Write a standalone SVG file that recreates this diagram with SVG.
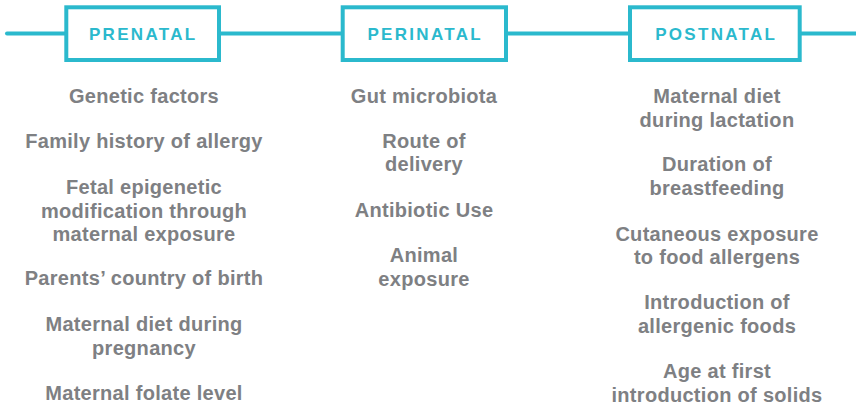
<svg xmlns="http://www.w3.org/2000/svg" width="856" height="407" viewBox="0 0 856 407">
<style>
.ln{stroke:#2bb9cd;stroke-width:4;fill:none;stroke-linecap:round}
.box{fill:#fff;stroke:#2bb9cd;stroke-width:4}
.hd{font-family:"Liberation Sans",Arial,sans-serif;font-weight:bold;font-size:17px;letter-spacing:2.3px;fill:#2bb9cd;text-anchor:middle}
.tx{font-family:"Liberation Sans",Arial,sans-serif;font-weight:bold;font-size:20px;letter-spacing:0.3px;fill:#7e8083;text-anchor:middle}
</style>
<g id="connectors">
<line class="ln" x1="7" y1="33.5" x2="856" y2="33.5"/>
</g>
<g id="prenatal">
<rect class="box" x="66.3" y="7.3" width="152.7" height="52.7"/>
<text class="hd" x="143.2" y="40">PRENATAL</text>
</g>
<g id="perinatal">
<rect class="box" x="342.7" y="7.3" width="163.3" height="52.7"/>
<text class="hd" x="425.2" y="40">PERINATAL</text>
</g>
<g id="postnatal">
<rect class="box" x="630" y="7.3" width="169.7" height="52.7"/>
<text class="hd" x="716.2" y="40">POSTNATAL</text>
</g>
<g id="prenatal-factors">
<text class="tx" x="144" y="103">Genetic factors</text>
<text class="tx" x="144" y="148">Family history of allergy</text>
<text class="tx" x="144" y="194">Fetal epigenetic</text>
<text class="tx" x="144" y="218">modification through</text>
<text class="tx" x="144" y="241">maternal exposure</text>
<text class="tx" x="144" y="285">Parents’ country of birth</text>
<text class="tx" x="144" y="331">Maternal diet during</text>
<text class="tx" x="144" y="355">pregnancy</text>
<text class="tx" x="144" y="400">Maternal folate level</text>
</g>
<g id="perinatal-factors">
<text class="tx" x="424" y="103">Gut microbiota</text>
<text class="tx" x="424" y="148">Route of</text>
<text class="tx" x="424" y="171">delivery</text>
<text class="tx" x="424" y="217">Antibiotic Use</text>
<text class="tx" x="424" y="262">Animal</text>
<text class="tx" x="424" y="286">exposure</text>
</g>
<g id="postnatal-factors">
<text class="tx" x="717" y="103">Maternal diet</text>
<text class="tx" x="717" y="127">during lactation</text>
<text class="tx" x="717" y="171">Duration of</text>
<text class="tx" x="717" y="195">breastfeeding</text>
<text class="tx" x="717" y="241">Cutaneous exposure</text>
<text class="tx" x="717" y="264">to food allergens</text>
<text class="tx" x="717" y="309">Introduction of</text>
<text class="tx" x="717" y="333">allergenic foods</text>
<text class="tx" x="717" y="378">Age at first</text>
<text class="tx" x="717" y="402">introduction of solids</text>
</g>
</svg>
